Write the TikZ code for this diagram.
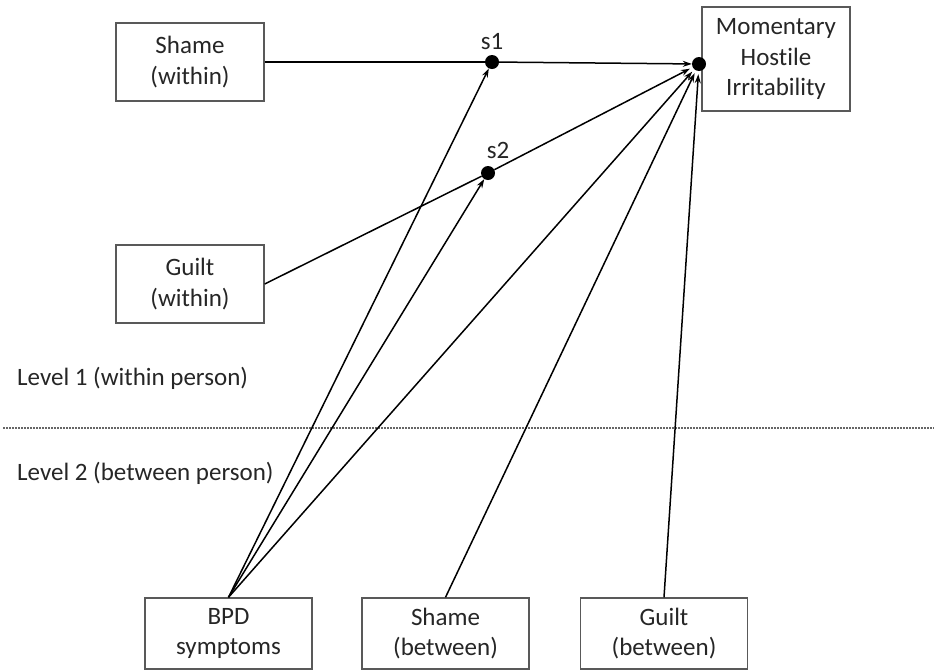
\documentclass[tikz,border=0pt]{standalone}
\usepackage{fontspec}
\setmainfont{Carlito}[Ligatures=NoCommon]
\usetikzlibrary{arrows.meta}
\begin{document}
\begin{tikzpicture}[x=1pt,y=-1pt,
  box/.style={draw=black!65,line width=1.4pt,fill=white,align=center,
    inner sep=0pt,minimum width=148pt,minimum height=78pt,
    font=\fontsize{25}{30.5}\selectfont,text=black!85},
  wbox/.style={box,minimum width=167pt,minimum height=71pt},
  dot/.style={circle,fill=black,inner sep=0pt,minimum size=14pt},
  lvl/.style={anchor=west,inner sep=0pt,font=\fontsize{25}{30}\selectfont,text=black!85},
  lab/.style={inner sep=0pt,font=\fontsize{25}{30}\selectfont,text=black!85},
  conn/.style={line width=1.5pt,black},
  arr/.style={conn,-{Stealth[length=9pt,width=6pt]}}
]
\useasboundingbox (0,0) rectangle (934,670);

\node[box] (shw) at (190,62) {Shame\\(within)};
\node[box] (gw) at (190,284) {Guilt\\(within)};
\node[box,minimum height=104pt] (mhi) at (776,59) {Momentary\\Hostile\\Irritability};
\node[wbox] (bpd) at (228.5,633.5) {BPD\\symptoms};
\node[wbox] (shb) at (445.5,633.5) {Shame\\(between)};
\node[wbox] (gb) at (664,633.5) {Guilt\\(between)};

\node[dot] (s1) at (492,62) {};
\node[dot] (s2) at (488,173) {};
\node[dot] (tgt) at (699,64) {};
\node[lab] (s1l) at (492,42) {s1};
\node[lab] (s2l) at (498,150) {s2};

\node[lvl] (l1) at (17,378) {Level 1 (within person)};
\node[lvl] (l2) at (17,473) {Level 2 (between person)};
\coordinate (dl) at (3,428);
\coordinate (dr) at (934,428);
\draw[black!60,line width=1.5pt,dash pattern=on 1.5pt off 1.5pt] (dl) -- (dr);

\draw[conn] (shw.east) -- (s1);
\draw[arr] (s1) -- (tgt);
\draw[conn] (gw.east) -- (s2);
\draw[arr,shorten >=3pt] (s2) -- (tgt);
\draw[arr] (bpd.north) -- (s1);
\draw[arr] (bpd.north) -- (s2);
\draw[arr,shorten >=3pt] (bpd.north) -- (tgt);
\draw[arr,shorten >=3pt] (shb.north) -- (tgt);
\draw[arr,shorten >=3pt] (gb.north) -- (tgt);
\end{tikzpicture}
\end{document}
